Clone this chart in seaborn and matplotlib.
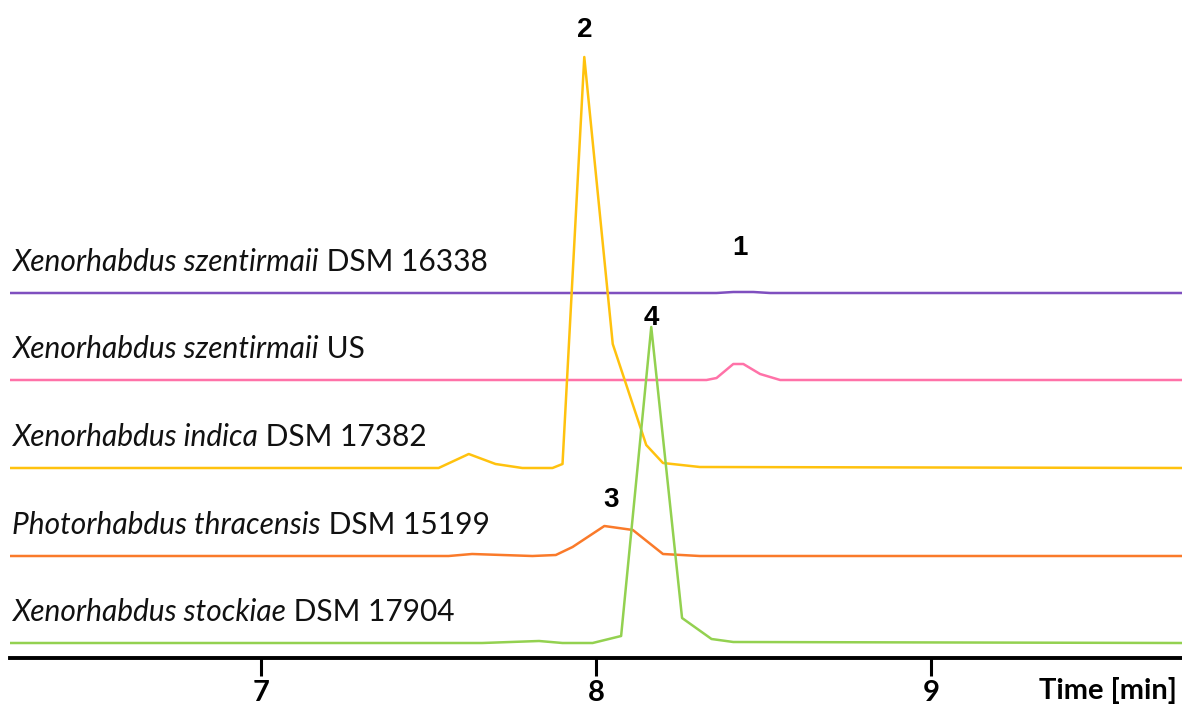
"""
Stacked HPLC traces of five strains, peaks 1-4 labelled
"""

import matplotlib
matplotlib.use("Agg")
import matplotlib.pyplot as plt
import seaborn as sns

# trace data (time in min, signal in arbitrary units above each baseline)
strains = [
    ("Xenorhabdus szentirmaii", " DSM 16338"),
    ("Xenorhabdus szentirmaii", " US"),
    ("Xenorhabdus indica", " DSM 17382"),
    ("Photorhabdus thracensis", " DSM 15199"),
    ("Xenorhabdus stockiae", " DSM 17904"),
]
offsets = [350, 263, 175, 87, 0]
colors = ["#7F4FBF", "#FF72A8", "#FFC20E", "#FA7A2A", "#93D150"]

purple_t = [6.25, 8.36, 8.41, 8.47, 8.52, 9.75]
purple_h = [0, 0, 1, 1, 0, 0]

pink_t = [6.25, 8.33, 8.36, 8.41, 8.44, 8.49, 8.55, 9.75]
pink_h = [0, 0, 2, 16, 16, 6, 0, 0]

yellow_t = [6.25, 7.53, 7.62, 7.70, 7.78, 7.87, 7.90, 7.965, 8.05, 8.15, 8.20, 8.31, 9.75]
yellow_h = [0, 0, 14, 4, 0, 0, 4, 411, 124, 23, 5, 1, 0]

orange_t = [6.25, 7.56, 7.63, 7.72, 7.81, 7.88, 7.93, 8.025, 8.11, 8.20, 8.31, 9.75]
orange_h = [0, 0, 2, 1, 0, 1, 9, 30, 26, 2, 0, 0]

green_t = [6.25, 7.66, 7.83, 7.90, 7.99, 8.075, 8.165, 8.257, 8.345, 8.41, 9.75]
green_h = [0, 0, 2, 0, 0, 7, 316, 25, 4, 1, 0]

traces_t = [purple_t, pink_t, yellow_t, orange_t, green_t]
traces_h = [purple_h, pink_h, yellow_h, orange_h, green_h]

# peak labels: number, time, height
peak_labels = ["1", "2", "3", "4"]
peak_t = [8.43, 7.965, 8.045, 8.165]
peak_y = [395, 613, 143, 325]

xticks = [7, 8, 9]

sns.set_style("white")
plt.rcParams["font.family"] = ["Lato", "DejaVu Sans"]
plt.rcParams["text.color"] = "black"
plt.rcParams["xtick.color"] = "black"

fig = plt.figure(figsize=(11.82, 7.10), dpi=100)
ax = fig.add_axes([10 / 1182, 52 / 710, 1172 / 1182, 658 / 710])

for t, h, off, col in zip(traces_t, traces_h, offsets, colors):
    sns.lineplot(x=t, y=[off + v for v in h], color=col, linewidth=1.8, ax=ax)

for (ital, rest), off in zip(strains, offsets):
    t1 = ax.text(6.256, off + 17, ital, fontsize=21.5, style="italic",
                 va="bottom", ha="left", color="#111111")
    ax.annotate(rest, xy=(1, 0), xycoords=t1, fontsize=21.5,
                va="bottom", ha="left", color="#111111")

for lab, t, y in zip(peak_labels, peak_t, peak_y):
    ax.text(t, y, lab, fontsize=20, fontweight="bold", ha="center", va="center",
            color="black", family=["Liberation Sans", "DejaVu Sans"])

ax.set_xlim(6.25, 9.75)
ax.set_ylim(-15, 643)
ax.set_xticks(xticks)
ax.set_xticklabels([str(v) for v in xticks], fontsize=21, fontweight="bold")
ax.set_yticks([])
ax.tick_params(axis="x", bottom=True, direction="out", length=13, width=2.2,
               pad=3, color="black", labelcolor="black")
for side in ["top", "right", "left"]:
    ax.spines[side].set_visible(False)
ax.spines["bottom"].set_linewidth(2.8)
ax.spines["bottom"].set_color("black")
ax.text(0.996, -0.05, "Time [min]", transform=ax.transAxes, ha="right", va="center",
        fontsize=21, fontweight="bold", color="black")

plt.savefig("out.png", dpi=100)
plt.close()
